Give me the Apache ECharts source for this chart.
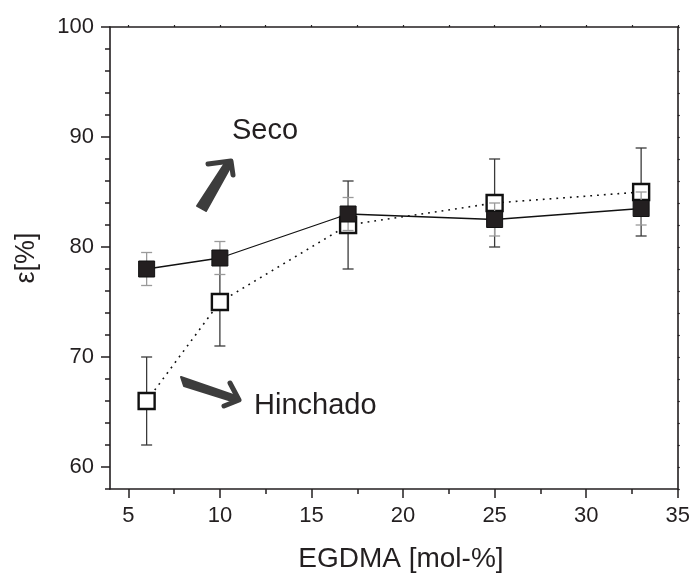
<!DOCTYPE html>
<html>
<head>
<meta charset="utf-8">
<style>
  html, body { margin: 0; padding: 0; background: #fff; }
  #chart { width: 693px; height: 578px; }
</style>
<script src="https://cdn.jsdelivr.net/npm/echarts@6/dist/echarts.min.js"></script>
</head>
<body>
<div id="chart"></div>
<script>
// EGDMA content (mol-%)
const egdma = [6, 10, 17, 25, 33];
// porosity ε [%] — dry (Seco) and swollen (Hinchado) samples
const seco = [78, 79, 83, 82.5, 83.5];
const secoErr = [1.5, 1.5, 1.5, 1.5, 1.5];
const hinchado = [66, 75, 82, 84, 85];
const hinchadoErr = [4, 4, 4, 4, 4];

const xMajorTicks = [5, 10, 15, 20, 25, 30, 35];
const xMinorTicks = [7.5, 12.5, 17.5, 22.5, 27.5, 32.5];
const yMajorTicks = [60, 70, 80, 90, 100];
const yMinorTicks = [58, 62, 64, 66, 68, 72, 74, 76, 78, 82, 84, 86, 88, 92, 94, 96, 98];

const FONT = '"Liberation Sans", Arial, sans-serif';
const INK = '#231f20';

const pts = (ys) => egdma.map((x, i) => [x, ys[i]]);
const errRows = (ys, es) => egdma.map((x, i) => [x, ys[i] - es[i], ys[i] + es[i]]);

function errorBar(color) {
  return function (params, api) {
    const x = api.value(0);
    const lo = api.coord([x, api.value(1)]);
    const hi = api.coord([x, api.value(2)]);
    const w = 5.5;
    const style = { stroke: color, lineWidth: 1.3 };
    return {
      type: 'group',
      children: [
        { type: 'line', shape: { x1: lo[0], y1: lo[1], x2: hi[0], y2: hi[1] }, style },
        { type: 'line', shape: { x1: lo[0] - w, y1: lo[1], x2: lo[0] + w, y2: lo[1] }, style },
        { type: 'line', shape: { x1: hi[0] - w, y1: hi[1], x2: hi[0] + w, y2: hi[1] }, style }
      ]
    };
  };
}

const baseX = { type: 'value', min: 4, max: 35, splitLine: { show: false } };
const baseY = { type: 'value', min: 58, max: 100, splitLine: { show: false } };
const axisLine = { show: true, onZero: false, lineStyle: { color: INK, width: 1.6 } };

const chart = echarts.init(document.getElementById('chart'), null, { renderer: 'canvas' });

chart.setOption({
  backgroundColor: '#fff',
  animation: false,
  grid: { left: 110, right: 15, top: 27, bottom: 87 },
  xAxis: [
    Object.assign({}, baseX, {
      position: 'bottom',
      axisLine,
      axisTick: { show: true, customValues: xMajorTicks, length: 9, lineStyle: { color: INK, width: 1.5 } },
      axisLabel: { customValues: xMajorTicks, margin: 16, fontFamily: FONT, fontSize: 22, color: INK },
      name: 'EGDMA [mol-%]',
      nameLocation: 'middle',
      nameGap: 56,
      nameTextStyle: { fontFamily: FONT, fontSize: 28, color: INK, padding: [0, 0, 0, 14] }
    }),
    Object.assign({}, baseX, {
      position: 'bottom',
      axisLine: { show: false },
      axisTick: { show: true, customValues: xMinorTicks, length: 5, lineStyle: { color: INK, width: 1.5 } },
      axisLabel: { show: false }
    }),
    Object.assign({}, baseX, {
      position: 'top',
      axisLine,
      axisTick: { show: true, customValues: xMajorTicks.concat(xMinorTicks), length: 2, lineStyle: { color: INK, width: 1.2 } },
      axisLabel: { show: false }
    })
  ],
  yAxis: [
    Object.assign({}, baseY, {
      position: 'left',
      axisLine,
      axisTick: { show: true, customValues: yMajorTicks, length: 9, lineStyle: { color: INK, width: 1.5 } },
      axisLabel: { customValues: yMajorTicks, margin: 16, fontFamily: FONT, fontSize: 22, color: INK },
      name: 'ε[%]',
      nameLocation: 'middle',
      nameGap: 70,
      nameTextStyle: { fontFamily: FONT, fontSize: 27, color: INK }
    }),
    Object.assign({}, baseY, {
      position: 'left',
      axisLine: { show: false },
      axisTick: { show: true, customValues: yMinorTicks, length: 5, lineStyle: { color: INK, width: 1.5 } },
      axisLabel: { show: false }
    }),
    Object.assign({}, baseY, {
      position: 'right',
      axisLine,
      axisTick: { show: true, customValues: yMajorTicks.concat(yMinorTicks), length: 2, lineStyle: { color: INK, width: 1.2 } },
      axisLabel: { show: false }
    })
  ],
  series: [
    {
      name: 'Hinchado error',
      type: 'custom',
      renderItem: errorBar('#3a3a3a'),
      data: errRows(hinchado, hinchadoErr),
      encode: { x: 0, y: [1, 2] },
      z: 1
    },
    {
      name: 'Hinchado',
      type: 'line',
      data: pts(hinchado),
      symbol: 'rect',
      symbolSize: 16,
      itemStyle: { color: '#fff', borderColor: '#111', borderWidth: 2.4 },
      lineStyle: { color: '#111', width: 1.6, type: [1.8, 5] },
      z: 2
    },
    {
      name: 'Seco error',
      type: 'custom',
      renderItem: errorBar('#9a9a9a'),
      data: errRows(seco, secoErr),
      encode: { x: 0, y: [1, 2] },
      z: 3
    },
    {
      name: 'Seco',
      type: 'line',
      data: pts(seco),
      symbol: 'rect',
      symbolSize: 16,
      itemStyle: { color: '#231f20', borderColor: '#111', borderWidth: 1 },
      lineStyle: { color: '#111', width: 1.3, type: 'solid' },
      z: 4
    }
  ],
  graphic: [
    // "Seco" annotation with hand-drawn style arrow
    {
      type: 'polygon',
      shape: { points: [[197, 206], [225, 163], [231, 166], [206, 211]] },
      style: { fill: '#3d3d3d', stroke: '#3d3d3d', lineWidth: 2, lineJoin: 'round' }
    },
    {
      type: 'polyline',
      shape: { points: [[208, 164], [231, 161], [233, 175]] },
      style: { stroke: '#3d3d3d', lineWidth: 5, lineCap: 'round', lineJoin: 'round', fill: null }
    },
    {
      type: 'text',
      left: 232, top: 116,
      style: { text: 'Seco', font: '29px ' + FONT, fill: INK }
    },
    // "Hinchado" annotation arrow
    {
      type: 'polygon',
      shape: { points: [[181, 377], [236, 396], [235, 402], [184, 386]] },
      style: { fill: '#3d3d3d', stroke: '#3d3d3d', lineWidth: 2, lineJoin: 'round' }
    },
    {
      type: 'polyline',
      shape: { points: [[230, 383], [239, 400], [224, 406]] },
      style: { stroke: '#3d3d3d', lineWidth: 5, lineCap: 'round', lineJoin: 'round', fill: null }
    },
    {
      type: 'text',
      left: 254, top: 391,
      style: { text: 'Hinchado', font: '29px ' + FONT, fill: INK }
    }
  ]
});
</script>
</body>
</html>
